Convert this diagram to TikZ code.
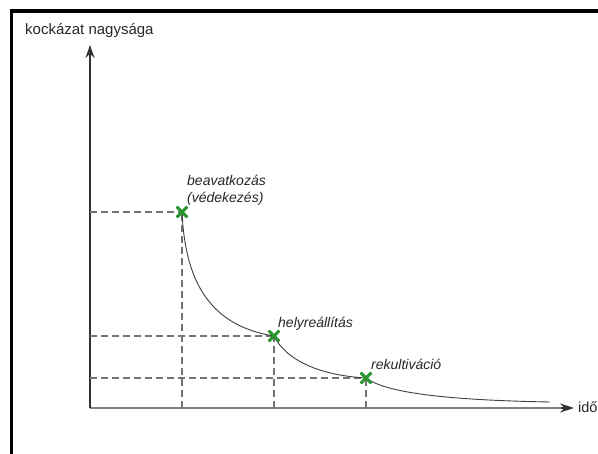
\documentclass[tikz,border=0pt]{standalone}
\usepackage{fontspec}
\setmainfont{Liberation Sans}
\usetikzlibrary{arrows.meta,shapes.misc}
\definecolor{mkgreen}{RGB}{40,150,45}
\definecolor{txtgray}{RGB}{40,40,40}
\begin{document}
\begin{tikzpicture}[x=1pt,y=-1pt,
  axisline/.style={line width=1.1pt,color=black!80},
  haxis/.style={line width=1.8pt,color=black!50},
  guide/.style={line width=1.2pt,color=black!55,dash pattern=on 7pt off 4pt},
  curveline/.style={line width=0.9pt,color=black!75},
  xmark/.style={cross out,draw=mkgreen,line width=2.6pt,minimum size=8pt,inner sep=0pt},
  lbl/.style={font=\fontsize{14}{17}\selectfont\itshape,text=txtgray,inner sep=0pt},
  axlbl/.style={font=\fontsize{15}{18}\selectfont,text=txtgray,inner sep=0pt},
  xaxlbl/.style={font=\fontsize{14.5}{17}\selectfont,text=txtgray,inner sep=0pt}]
\useasboundingbox (0,0) rectangle (598,454);
\fill[white] (0,0) rectangle (598,454);
% frame
\draw[line width=3.5pt,black] (11.5,454) -- (11.5,11) -- (598,11);
% axes
\coordinate (o) at (90,408);
\coordinate (ytip) at (90,45);
\coordinate (xtip) at (574,408);
\draw[haxis] (o) -- (561,408);
\draw[axisline,-{Stealth[length=14pt,width=9pt]}] (561,408) -- (xtip);
\draw[axisline,-{Stealth[length=13pt,width=9pt]}] (o) -- (ytip);
% guide coordinates
\coordinate (y1) at (90,212);
\coordinate (y2) at (90,336);
\coordinate (y3) at (90,378);
\coordinate (x1) at (182,408);
\coordinate (x2) at (274,408);
\coordinate (x3) at (366,408);
\coordinate (cend) at (550,402);
% marks
\node[xmark] (p1) at (182,212) {};
\node[xmark] (p2) at (274,336) {};
\node[xmark] (p3) at (366,378) {};
% dashed guides
\draw[guide] (y1) -- (p1.center);
\draw[guide] (x1) -- (p1.center);
\draw[guide] (y2) -- (p2.center);
\draw[guide] (x2) -- (p2.center);
\draw[guide] (y3) -- (p3.center);
\draw[guide] (x3) -- (p3.center);
% curve
\draw[curveline] (p1.center) .. controls (185,275) and (205,325) .. (p2.center);
\draw[curveline] (p2.center) .. controls (285,358) and (315,375) .. (p3.center);
\draw[curveline] (p3.center) .. controls (385,392) and (440,400) .. (cend);
% redraw marks on top
\node[xmark] at (p1.center) {};
\node[xmark] at (p2.center) {};
\node[xmark] at (p3.center) {};
% labels
\node[axlbl,anchor=base west] (ylab) at (25,35) {kockázat nagysága};
\node[xaxlbl,anchor=base west] (xlab) at (578,413) {idő};
\node[lbl,anchor=base west] (l1a) at (187,186) {beavatkozás};
\node[lbl,anchor=base west] (l1b) at (187,203) {(védekezés)};
\node[lbl,anchor=base west] (l2) at (278,328) {helyreállítás};
\node[lbl,anchor=base west] (l3) at (371,370) {rekultiváció};
\end{tikzpicture}
\end{document}
